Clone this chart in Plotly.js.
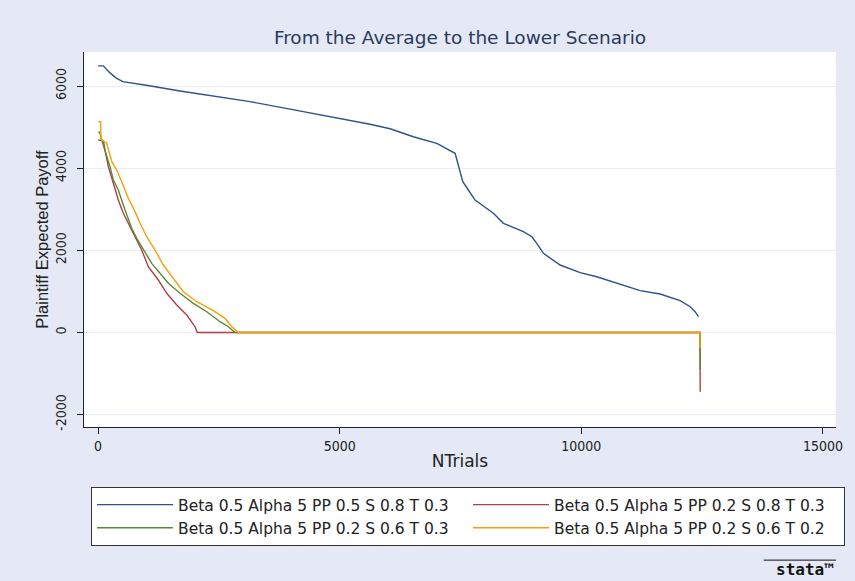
<!DOCTYPE html>
<html><head><meta charset="utf-8">
<script src="https://cdn.plot.ly/plotly-3.0.1.min.js"></script>
<style>html,body{margin:0;padding:0;background:#e4e9f5}</style>
</head><body>
<div id="chart" style="width:855px;height:581px"></div>
<script>
const seriesNames = [
  "Beta 0.5 Alpha 5 PP 0.5 S 0.8 T 0.3",
  "Beta 0.5 Alpha 5 PP 0.2 S 0.8 T 0.3",
  "Beta 0.5 Alpha 5 PP 0.2 S 0.6 T 0.3",
  "Beta 0.5 Alpha 5 PP 0.2 S 0.6 T 0.2"
];
const seriesColors = ["#2d528c", "#b04045", "#5a8a35", "#f5a00a"];

const trialsBlue = [1,110,248,372,511,1000,1697,2500,3146,4000,5077,5629,6043,6525,7010,7285,7388,7436,7477,7548,7663,7802,8181,8388,8802,8976,9079,9216,9561,9975,10320,10664,11217,11631,12045,12252,12355,12424];
const payoffBlue = [6490,6490,6320,6200,6105,6020,5880,5740,5620,5430,5195,5068,4960,4766,4605,4442,4362,4158,3997,3671,3469,3225,2902,2658,2454,2332,2171,1928,1643,1456,1358,1222,1018,937,774,628,506,385];

const trialsRed = [6,110,145,213,317,420,524,662,766,904,1041,1248,1422,1629,1836,2007,2055,12455,12460];
const payoffRed = [4686,4670,4443,4036,3632,3225,2902,2577,2332,2008,1602,1278,954,669,426,141,0,0,-1441];

const trialsGreen = [6,35,77,145,248,317,420,559,697,801,938,1111,1283,1455,1697,1972,2250,2525,2697,2835,12455,12460];
const payoffGreen = [4873,4873,4686,4443,4036,3712,3469,2982,2536,2292,2008,1684,1441,1198,954,711,506,263,141,0,0,-913];

const trialsOrange = [6,56,60,180,284,387,490,627,766,869,1008,1180,1351,1525,1765,2043,2386,2628,2767,2904,12455,12460];
const payoffOrange = [5131,5131,4700,4606,4158,3955,3671,3266,2942,2658,2332,2008,1643,1358,993,750,531,345,141,0,0,-385];

const xTicks = [0, 5000, 10000, 15000];
const yTicks = [-2000, 0, 2000, 4000, 6000];

const xs = [trialsBlue, trialsRed, trialsGreen, trialsOrange];
const ys = [payoffBlue, payoffRed, payoffGreen, payoffOrange];

const traces = xs.map((x, i) => ({
  x: x, y: ys[i], type: "scatter", mode: "lines", name: seriesNames[i],
  line: {color: seriesColors[i], width: 1.4}
}));

const cond = "'DejaVu Sans Condensed', 'Liberation Sans Narrow', 'DejaVu Sans', sans-serif";
const wide = "'DejaVu Sans', 'Liberation Sans', sans-serif";

const layout = {
  width: 855, height: 581,
  paper_bgcolor: "#e4e9f5", plot_bgcolor: "#ffffff",
  margin: {l: 84, r: 19, t: 52, b: 154},
  font: {family: cond, color: "#222222", size: 14},
  title: {text: "From the Average to the Lower Scenario", font: {size: 18.5, color: "#2b3a5e", family: wide},
          x: 0.5, xref: "paper", y: 1 - 38/581, yref: "container", yanchor: "middle"},
  xaxis: {range: [-290, 15270], tickvals: xTicks, ticktext: xTicks.map(String), ticks: "outside", ticklen: 6,
          tickcolor: "#222", showline: true, linecolor: "#222", linewidth: 1, showgrid: false, zeroline: false,
          automargin: false,
          title: {text: "NTrials", font: {size: 17, family: wide}, standoff: 2}, tickfont: {size: 14}},
  yaxis: {range: [-2300, 6828], tickvals: yTicks, ticktext: yTicks.map(String), ticks: "outside", ticklen: 6,
          tickcolor: "#222", showline: true, linecolor: "#222", linewidth: 1, showgrid: true, gridcolor: "#e8ecf6",
          zeroline: false, tickangle: -90, tickfont: {size: 14}, automargin: false, ticklabelstandoff: 5,
          title: {text: "Plaintiff Expected Payoff", font: {size: 16.5, family: "'Liberation Sans', Arial, sans-serif"}, standoff: 0}},
  showlegend: true,
  legend: {orientation: "h", xref: "container", yref: "container", x: 91/855, xanchor: "left", y: 1 - 487/581, yanchor: "top",
           bgcolor: "#ffffff", bordercolor: "#333333", borderwidth: 1,
           entrywidth: 285, entrywidthmode: "pixels", itemwidth: 76, font: {size: 15.5, family: wide}},
  annotations: [{xref: "paper", yref: "paper", x: 1, y: -0.379, xanchor: "right", yanchor: "middle",
                 text: "<b>stata™</b>", showarrow: false, font: {size: 16, color: "#111", family: "'DejaVu Sans Mono', monospace"}}],
  shapes: [{type: "line", xref: "paper", yref: "paper", x0: 0.904, x1: 1.0, y0: -0.355, y1: -0.355,
            line: {color: "#111", width: 1}}]
};

Plotly.newPlot("chart", traces, layout, {displayModeBar: false, staticPlot: true});
</script>
</body></html>
